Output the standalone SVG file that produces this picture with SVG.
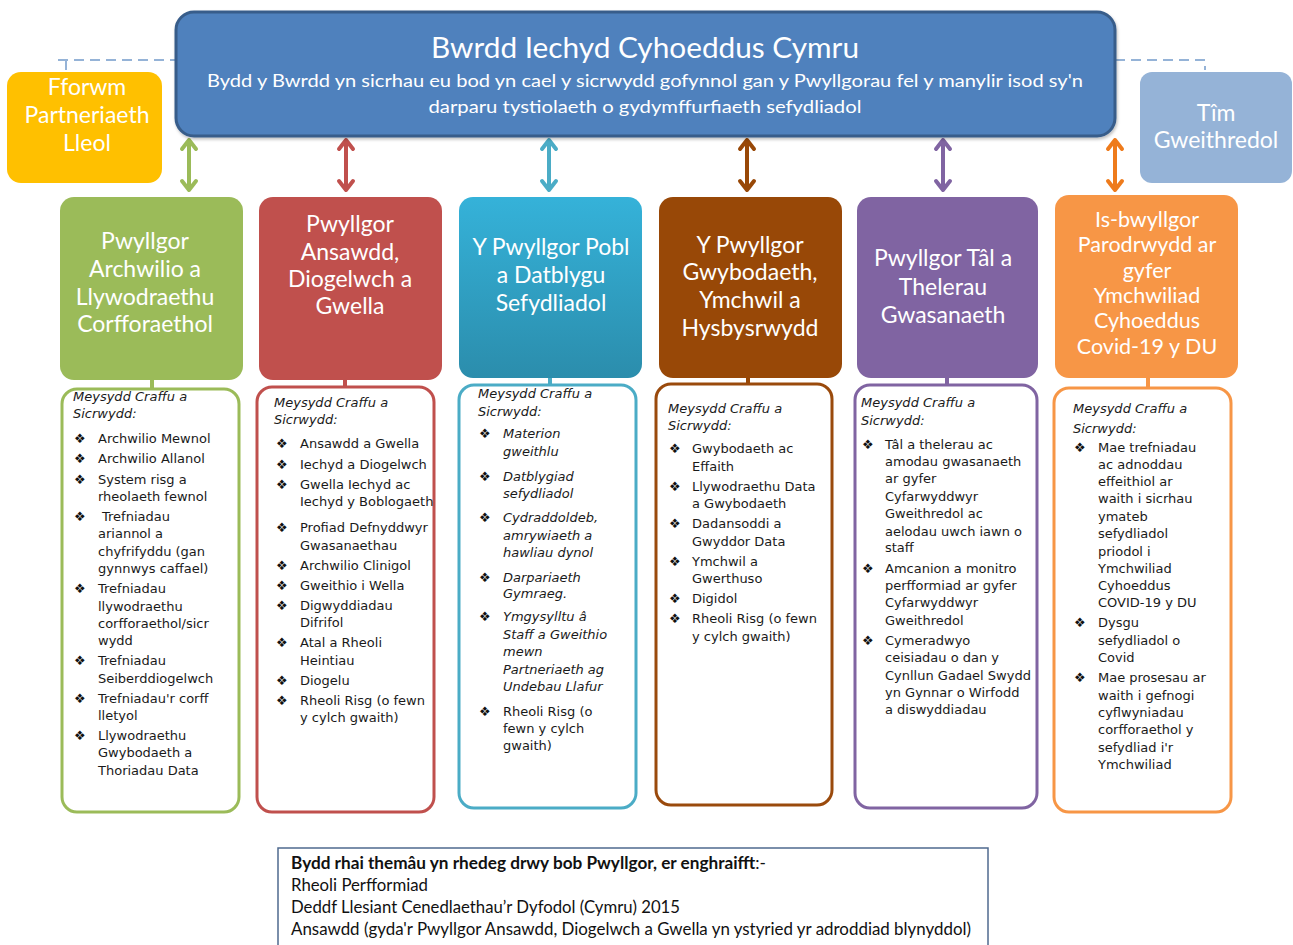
<svg xmlns="http://www.w3.org/2000/svg" width="1293" height="945" viewBox="0 0 1293 945">
<defs>
<linearGradient id="gCyan" x1="0" y1="0" x2="0" y2="1"><stop offset="0" stop-color="#35B2D9"/><stop offset="1" stop-color="#2B8DAC"/></linearGradient>
<filter id="sh" x="-5%" y="-5%" width="110%" height="115%"><feDropShadow dx="1" dy="2" stdDeviation="1.5" flood-color="#000" flood-opacity="0.25"/></filter>
</defs>
<style>
.hd{font-family:Lato,"Open Sans",sans-serif;fill:#fff;text-anchor:middle}
.li{font-family:"DejaVu Sans",Verdana,sans-serif;font-size:13px;fill:#1a1a1a}
.it{font-style:italic}
.bu{font-family:"DejaVu Sans",sans-serif;font-size:13px;fill:#111}
.lb{fill:#fff;stroke-width:3}
.dash{fill:none;stroke:#95B3D7;stroke-width:2;stroke-dasharray:10 6}
.arr{fill:none;stroke-width:4;stroke-linecap:round;stroke-linejoin:round}
.bt{font-family:Lato,"Liberation Sans",sans-serif;font-size:16.5px;fill:#111}
</style>

<g id="connectors">
<path class="dash" d="M58,60 H176 M66,60 V72"/>
<path class="dash" d="M1115,60 H1205 V70"/>
<path class="arr" stroke="#9BBB59" d="M189,140 V190 M182,149 L189,140 L196,149 M182,181 L189,190 L196,181"/>
<path class="arr" stroke="#C0504D" d="M346,140 V190 M339,149 L346,140 L353,149 M339,181 L346,190 L353,181"/>
<path class="arr" stroke="#4BACC6" d="M549,140 V190 M542,149 L549,140 L556,149 M542,181 L549,190 L556,181"/>
<path class="arr" stroke="#984807" d="M747,140 V190 M740,149 L747,140 L754,149 M740,181 L747,190 L754,181"/>
<path class="arr" stroke="#8064A2" d="M943,140 V190 M936,149 L943,140 L950,149 M936,181 L943,190 L950,181"/>
<path class="arr" stroke="#EE7B1C" d="M1115,140 V190 M1108,149 L1115,140 L1122,149 M1108,181 L1115,190 L1122,181"/>
<g stroke-width="4">
<line x1="152" y1="380" x2="152" y2="390" stroke="#9BBB59"/>
<line x1="345" y1="380" x2="345" y2="388" stroke="#C0504D"/>
<line x1="550" y1="378" x2="550" y2="386" stroke="#4BACC6"/>
<line x1="748" y1="378" x2="748" y2="385" stroke="#984807"/>
<line x1="947" y1="378" x2="947" y2="386" stroke="#8064A2"/>
<line x1="1148" y1="378" x2="1148" y2="389" stroke="#F79646"/>
</g>
</g>

<g id="board">
<rect x="176" y="12" width="939" height="124" rx="18" fill="#4F81BD" stroke="#385D8A" stroke-width="3" filter="url(#sh)"/>
<text class="hd" x="645" y="58" font-size="28.5" textLength="428" lengthAdjust="spacingAndGlyphs">Bwrdd Iechyd Cyhoeddus Cymru</text>
<text class="hd" x="645" y="87" font-size="17.5" textLength="876" lengthAdjust="spacingAndGlyphs">Bydd y Bwrdd yn sicrhau eu bod yn cael y sicrwydd gofynnol gan y Pwyllgorau fel y manylir isod sy'n</text>
<text class="hd" x="645" y="113" font-size="17.5" textLength="433" lengthAdjust="spacingAndGlyphs">darparu tystiolaeth o gydymffurfiaeth sefydliadol</text>
</g>

<g id="forum">
<rect x="7" y="72" width="155" height="111" rx="14" fill="#FFC000"/>
<text class="hd" font-size="23"><tspan x="87" y="95">Fforwm</tspan><tspan x="87" y="123">Partneriaeth</tspan><tspan x="87" y="151">Lleol</tspan></text>
</g>

<g id="exec">
<rect x="1140" y="72" width="152" height="111" rx="12" fill="#95B3D7"/>
<text class="hd" font-size="23" fill="#F2F5FA"><tspan x="1216" y="121">Tîm</tspan><tspan x="1216" y="148">Gweithredol</tspan></text>
</g>

<g id="audit">
<rect x="60" y="197" width="183" height="183" rx="14" fill="#9BBB59"/>
<text class="hd" font-size="23"><tspan x="145" y="249">Pwyllgor</tspan><tspan x="145" y="277">Archwilio a</tspan><tspan x="145" y="305">Llywodraethu</tspan><tspan x="145" y="332">Corfforaethol</tspan></text>
<rect class="lb" x="62" y="389" width="177" height="423" rx="15" stroke="#9BBB59"/>
<text class="li it"><tspan x="73" y="401">Meysydd Craffu a</tspan><tspan x="73" y="418">Sicrwydd:</tspan></text>
<text class="bu"><tspan x="74" y="443">❖</tspan><tspan x="74" y="463">❖</tspan><tspan x="74" y="484">❖</tspan><tspan x="74" y="521">❖</tspan><tspan x="74" y="593">❖</tspan><tspan x="74" y="665">❖</tspan><tspan x="74" y="703">❖</tspan><tspan x="74" y="740">❖</tspan></text>
<text class="li"><tspan x="98" y="443">Archwilio Mewnol</tspan><tspan x="98" y="463">Archwilio Allanol</tspan><tspan x="98" y="484">System risg a</tspan><tspan x="98" y="501">rheolaeth fewnol</tspan><tspan x="102" y="521">Trefniadau</tspan><tspan x="98" y="538">ariannol a</tspan><tspan x="98" y="556">chyfrifyddu (gan</tspan><tspan x="98" y="573">gynnwys caffael)</tspan><tspan x="98" y="593">Trefniadau</tspan><tspan x="98" y="611">llywodraethu</tspan><tspan x="98" y="628">corfforaethol/sicr</tspan><tspan x="98" y="645">wydd</tspan><tspan x="98" y="665">Trefniadau</tspan><tspan x="98" y="683">Seiberddiogelwch</tspan><tspan x="98" y="703">Trefniadau'r corff</tspan><tspan x="98" y="720">lletyol</tspan><tspan x="98" y="740">Llywodraethu</tspan><tspan x="98" y="757">Gwybodaeth a</tspan><tspan x="98" y="775">Thoriadau Data</tspan></text>
</g>

<g id="quality">
<rect x="259" y="197" width="183" height="183" rx="14" fill="#C0504D"/>
<text class="hd" font-size="23"><tspan x="350" y="232">Pwyllgor</tspan><tspan x="350" y="260">Ansawdd,</tspan><tspan x="350" y="287">Diogelwch a</tspan><tspan x="350" y="314">Gwella</tspan></text>
<rect class="lb" x="257" y="387" width="177" height="425" rx="15" stroke="#C0504D"/>
<text class="li it"><tspan x="274" y="407">Meysydd Craffu a</tspan><tspan x="274" y="424">Sicrwydd:</tspan></text>
<text class="bu"><tspan x="276" y="448">❖</tspan><tspan x="276" y="469">❖</tspan><tspan x="276" y="489">❖</tspan><tspan x="276" y="532">❖</tspan><tspan x="276" y="570">❖</tspan><tspan x="276" y="590">❖</tspan><tspan x="276" y="610">❖</tspan><tspan x="276" y="647">❖</tspan><tspan x="276" y="685">❖</tspan><tspan x="276" y="705">❖</tspan></text>
<text class="li"><tspan x="300" y="448">Ansawdd a Gwella</tspan><tspan x="300" y="469">Iechyd a Diogelwch</tspan><tspan x="300" y="489">Gwella Iechyd ac</tspan><tspan x="300" y="506">Iechyd y Boblogaeth</tspan><tspan x="300" y="532">Profiad Defnyddwyr</tspan><tspan x="300" y="550">Gwasanaethau</tspan><tspan x="300" y="570">Archwilio Clinigol</tspan><tspan x="300" y="590">Gweithio i Wella</tspan><tspan x="300" y="610">Digwyddiadau</tspan><tspan x="300" y="627">Difrifol</tspan><tspan x="300" y="647">Atal a Rheoli</tspan><tspan x="300" y="665">Heintiau</tspan><tspan x="300" y="685">Diogelu</tspan><tspan x="300" y="705">Rheoli Risg (o fewn</tspan><tspan x="300" y="722">y cylch gwaith)</tspan></text>
</g>

<g id="people">
<rect x="459" y="197" width="183" height="181" rx="14" fill="url(#gCyan)"/>
<text class="hd" font-size="23"><tspan x="551" y="255">Y Pwyllgor Pobl</tspan><tspan x="551" y="283">a Datblygu</tspan><tspan x="551" y="311">Sefydliadol</tspan></text>
<rect class="lb" x="459" y="385" width="177" height="423" rx="15" stroke="#4BACC6"/>
<text class="li it"><tspan x="478" y="398">Meysydd Craffu a</tspan><tspan x="478" y="416">Sicrwydd:</tspan></text>
<text class="bu"><tspan x="479" y="438">❖</tspan><tspan x="479" y="481">❖</tspan><tspan x="479" y="522">❖</tspan><tspan x="479" y="582">❖</tspan><tspan x="479" y="621">❖</tspan><tspan x="479" y="716">❖</tspan></text>
<text class="li it"><tspan x="503" y="438">Materion</tspan><tspan x="503" y="456">gweithlu</tspan><tspan x="503" y="481">Datblygiad</tspan><tspan x="503" y="498">sefydliadol</tspan><tspan x="503" y="522">Cydraddoldeb,</tspan><tspan x="503" y="540">amrywiaeth a</tspan><tspan x="503" y="557">hawliau dynol</tspan><tspan x="503" y="582">Darpariaeth</tspan><tspan x="503" y="598">Gymraeg.</tspan><tspan x="503" y="621">Ymgysylltu â</tspan><tspan x="503" y="639">Staff a Gweithio</tspan><tspan x="503" y="656">mewn</tspan><tspan x="503" y="674">Partneriaeth ag</tspan><tspan x="503" y="691">Undebau Llafur</tspan></text>
<text class="li"><tspan x="503" y="716">Rheoli Risg (o</tspan><tspan x="503" y="733">fewn y cylch</tspan><tspan x="503" y="750">gwaith)</tspan></text>
</g>

<g id="knowledge">
<rect x="659" y="197" width="183" height="181" rx="14" fill="#984807"/>
<text class="hd" font-size="23"><tspan x="750" y="253">Y Pwyllgor</tspan><tspan x="750" y="280">Gwybodaeth,</tspan><tspan x="750" y="308">Ymchwil a</tspan><tspan x="750" y="336">Hysbysrwydd</tspan></text>
<rect class="lb" x="656" y="384" width="176" height="421" rx="15" stroke="#9A4A0C"/>
<text class="li it"><tspan x="668" y="413">Meysydd Craffu a</tspan><tspan x="668" y="430">Sicrwydd:</tspan></text>
<text class="bu"><tspan x="669" y="453">❖</tspan><tspan x="669" y="491">❖</tspan><tspan x="669" y="528">❖</tspan><tspan x="669" y="566">❖</tspan><tspan x="669" y="603">❖</tspan><tspan x="669" y="623">❖</tspan></text>
<text class="li"><tspan x="692" y="453">Gwybodaeth ac</tspan><tspan x="692" y="471">Effaith</tspan><tspan x="692" y="491">Llywodraethu Data</tspan><tspan x="692" y="508">a Gwybodaeth</tspan><tspan x="692" y="528">Dadansoddi a</tspan><tspan x="692" y="546">Gwyddor Data</tspan><tspan x="692" y="566">Ymchwil a</tspan><tspan x="692" y="583">Gwerthuso</tspan><tspan x="692" y="603">Digidol</tspan><tspan x="692" y="623">Rheoli Risg (o fewn</tspan><tspan x="692" y="641">y cylch gwaith)</tspan></text>
</g>

<g id="remuneration">
<rect x="857" y="197" width="181" height="181" rx="14" fill="#8064A2"/>
<text class="hd" font-size="23"><tspan x="943" y="266">Pwyllgor Tâl a</tspan><tspan x="943" y="295">Thelerau</tspan><tspan x="943" y="323">Gwasanaeth</tspan></text>
<rect class="lb" x="855" y="385" width="182" height="423" rx="15" stroke="#8064A2"/>
<text class="li it"><tspan x="861" y="407">Meysydd Craffu a</tspan><tspan x="861" y="425">Sicrwydd:</tspan></text>
<text class="bu"><tspan x="862" y="449">❖</tspan><tspan x="862" y="573">❖</tspan><tspan x="862" y="645">❖</tspan></text>
<text class="li"><tspan x="885" y="449">Tâl a thelerau ac</tspan><tspan x="885" y="466">amodau gwasanaeth</tspan><tspan x="885" y="483">ar gyfer</tspan><tspan x="885" y="501">Cyfarwyddwyr</tspan><tspan x="885" y="518">Gweithredol ac</tspan><tspan x="885" y="536">aelodau uwch iawn o</tspan><tspan x="885" y="552">staff</tspan><tspan x="885" y="573">Amcanion a monitro</tspan><tspan x="885" y="590">perfformiad ar gyfer</tspan><tspan x="885" y="607">Cyfarwyddwyr</tspan><tspan x="885" y="625">Gweithredol</tspan><tspan x="885" y="645">Cymeradwyo</tspan><tspan x="885" y="662">ceisiadau o dan y</tspan><tspan x="885" y="680">Cynllun Gadael Swydd</tspan><tspan x="885" y="697">yn Gynnar o Wirfodd</tspan><tspan x="885" y="714">a diswyddiadau</tspan></text>
</g>

<g id="covid">
<rect x="1055" y="195" width="183" height="183" rx="14" fill="#F79646"/>
<text class="hd" font-size="21.5"><tspan x="1147" y="227">Is-bwyllgor</tspan><tspan x="1147" y="252">Parodrwydd ar</tspan><tspan x="1147" y="278">gyfer</tspan><tspan x="1147" y="303">Ymchwiliad</tspan><tspan x="1147" y="328">Cyhoeddus</tspan><tspan x="1147" y="354">Covid-19 y DU</tspan></text>
<rect class="lb" x="1054" y="388" width="177" height="424" rx="15" stroke="#F79646"/>
<text class="li it"><tspan x="1073" y="413">Meysydd Craffu a</tspan><tspan x="1073" y="433">Sicrwydd:</tspan></text>
<text class="bu"><tspan x="1074" y="452">❖</tspan><tspan x="1074" y="627">❖</tspan><tspan x="1074" y="682">❖</tspan></text>
<text class="li"><tspan x="1098" y="452">Mae trefniadau</tspan><tspan x="1098" y="469">ac adnoddau</tspan><tspan x="1098" y="486">effeithiol ar</tspan><tspan x="1098" y="503">waith i sicrhau</tspan><tspan x="1098" y="521">ymateb</tspan><tspan x="1098" y="538">sefydliadol</tspan><tspan x="1098" y="556">priodol i</tspan><tspan x="1098" y="573">Ymchwiliad</tspan><tspan x="1098" y="590">Cyhoeddus</tspan><tspan x="1098" y="607">COVID-19 y DU</tspan><tspan x="1098" y="627">Dysgu</tspan><tspan x="1098" y="645">sefydliadol o</tspan><tspan x="1098" y="662">Covid</tspan><tspan x="1098" y="682">Mae prosesau ar</tspan><tspan x="1098" y="700">waith i gefnogi</tspan><tspan x="1098" y="717">cyflwyniadau</tspan><tspan x="1098" y="734">corfforaethol y</tspan><tspan x="1098" y="752">sefydliad i'r</tspan><tspan x="1098" y="769">Ymchwiliad</tspan></text>
</g>

<g id="themes">
<rect x="278" y="848" width="710" height="100" fill="#fff" stroke="#4F6A8F" stroke-width="1.5"/>
<text class="bt" x="291" y="869" textLength="475" lengthAdjust="spacingAndGlyphs"><tspan font-weight="bold">Bydd rhai themâu yn rhedeg drwy bob Pwyllgor, er enghraifft</tspan>:-</text>
<text class="bt" x="291" y="891" textLength="137" lengthAdjust="spacingAndGlyphs">Rheoli Perfformiad</text>
<text class="bt" x="291" y="913" textLength="389" lengthAdjust="spacingAndGlyphs">Deddf Llesiant Cenedlaethau’r Dyfodol (Cymru) 2015</text>
<text class="bt" x="291" y="935" textLength="680" lengthAdjust="spacingAndGlyphs">Ansawdd (gyda'r Pwyllgor Ansawdd, Diogelwch a Gwella yn ystyried yr adroddiad blynyddol)</text>
</g>
</svg>
